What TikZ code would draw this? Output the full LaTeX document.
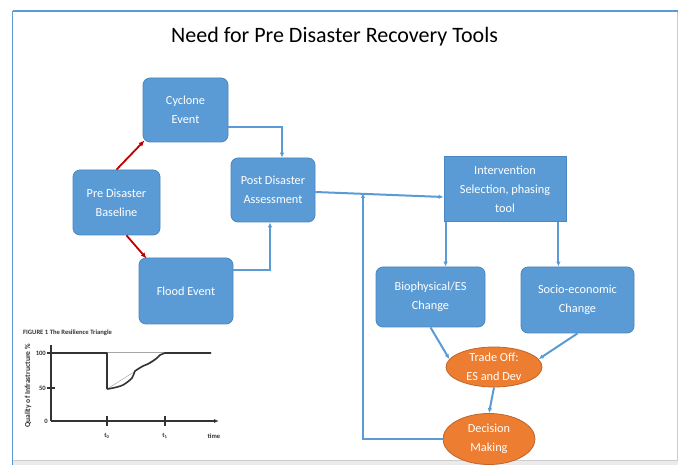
\documentclass[tikz,border=0pt]{standalone}
\usepackage{fontspec}
\setmainfont{Carlito}
\usetikzlibrary{arrows.meta,calc,shapes.geometric}
\definecolor{boxblue}{HTML}{5B9BD5}
\definecolor{boxedge}{HTML}{4A86BF}
\definecolor{linkblue}{HTML}{5B9BD5}
\definecolor{redarrow}{HTML}{C00000}
\definecolor{orangefill}{HTML}{ED7D31}
\definecolor{orangeedge}{HTML}{C0652A}
\definecolor{frameblue}{HTML}{5B9BD5}
\definecolor{bandgray}{HTML}{EBEBEB}
\definecolor{figgray}{HTML}{333333}
\tikzset{
  boxnode/.style={draw=boxedge, line width=0.8pt, fill=boxblue, text=white, align=center,
    rounded corners=7pt, inner sep=2pt, font=\fontsize{12.3}{19}\selectfont},
  sqnode/.style={boxnode, rounded corners=0pt},
  ovalnode/.style={ellipse, draw=orangeedge, line width=0.8pt, fill=orangefill, text=white,
    align=center, inner sep=0pt, font=\fontsize{12.3}{19}\selectfont},
  conn/.style={draw=linkblue, line width=2pt, -{Latex[length=5pt,width=4.5pt]}},
  redconn/.style={draw=redarrow, line width=1.8pt, -{Latex[length=6pt,width=5pt]}},
  figline/.style={draw=figgray, line width=1.6pt},
  figthin/.style={draw=gray!70, line width=0.5pt},
  figtext/.style={text=figgray, font=\fontsize{6.6}{7}\selectfont\bfseries, inner sep=0pt}
}
\begin{document}
\begin{tikzpicture}[x=1pt,y=-1pt]
\useasboundingbox (0,0) rectangle (678,465);
\fill[white] (0,0) rectangle (678,465);
% frame
\fill[bandgray] (13,460) rectangle (678,465);
\draw[gray!40, line width=0.8pt] (13,460) -- (678,460);
\draw[gray!40, line width=1pt] (677,11) -- (677,460);
\draw[frameblue, line width=1.5pt] (12.5,11) -- (678,11);
\draw[frameblue, line width=1.5pt] (12.5,11) -- (12.5,465);
% title
\node[font=\fontsize{22}{26}\selectfont, inner sep=0pt] (title) at (334.5,37) {Need for Pre Disaster Recovery Tools};
% nodes
\node[boxnode, minimum width=85pt, minimum height=64pt] (cyc) at (185.5,110) {Cyclone\\Event};
\node[boxnode, minimum width=87pt, minimum height=65pt] (pre) at (116.5,202.5) {Pre Disaster\\Baseline};
\node[boxnode, minimum width=94pt, minimum height=66pt] (flood) at (186,291) {Flood Event};
\node[boxnode, minimum width=84pt, minimum height=64pt] (post) at (273,190) {Post Disaster\\Assessment};
\node[sqnode, minimum width=122pt, minimum height=65pt] (inter) at (505,189) {Intervention\\Selection, phasing\\tool};
\node[boxnode, minimum width=109pt, minimum height=60pt] (bio) at (430.5,297) {Biophysical/ES\\Change};
\node[boxnode, minimum width=113pt, minimum height=66pt] (socio) at (577.5,300) {Socio-economic\\Change};
\node[ovalnode, minimum width=96pt, minimum height=40pt] (trade) at (494,367) {Trade Off:\\ES and Dev};
\node[ovalnode, minimum width=92pt, minimum height=51pt] (dec) at (489,439) {Decision\\Making};
% red arrows
\draw[redconn] (pre.north) -- ($(cyc.south west)+(2,-2)$);
\draw[redconn] ($(pre.south)+(10,0)$) -- ($(flood.north west)+(8,1)$);
% blue connectors
\draw[conn] ($(cyc.east)+(0,17)$) -| ($(post.north)+(9,0)$);
\draw[conn] ($(flood.east)+(0,-21)$) -| ($(post.south)+(-3,0)$);
\draw[conn] ($(post.east)+(0,2)$) -- ($(inter.west)+(0,8)$);
\coordinate (join) at (363,193);
\draw[conn] (dec.west) -| (join);
\draw[conn] ($(inter.south west)+(2,0)$) coordinate (ia) -- (ia |- bio.north);
\draw[conn] ($(inter.south east)+(-8,0)$) coordinate (ib) -- (ib |- socio.north);
\draw[conn] (bio.south) -- (trade.170);
\draw[conn] (socio.south) -- (trade.10);
\draw[conn] (trade.south) -- (dec.north);
% inset figure: resilience triangle
\node[figtext, anchor=west] (figtitle) at (23,333) {FIGURE 1 The Resilience Triangle};
\node[figtext, rotate=90, font=\fontsize{7.6}{8}\selectfont\bfseries] (ylab) at (28,386) {Quality of Infrastructure \%};
\draw[figline] (51,345) -- (51,421);
\draw[figline, -{Latex[length=5pt,width=4pt]}] (51,421) -- (219,421);
\draw[figline] (47,353) -- (55,353);
\draw[figline] (47,388) -- (55,388);
\draw[figline] (107,416) -- (107,426);
\draw[figline] (165,416) -- (165,426);
\node[figtext, anchor=east] (l100) at (46,353) {100};
\node[figtext, anchor=east] (l50) at (46,388) {50};
\node[figtext, anchor=east] (l0) at (48,421) {0};
\node[figtext] (t0) at (107,436) {t\textsubscript{0}};
\node[figtext] (t1) at (165,436) {t\textsubscript{1}};
\node[figtext] (time) at (214,436) {time};
\draw[figthin] (107,352.5) -- (165,352.5);
\draw[figthin] (107,389) -- (165,352.5);
\draw[figline, line join=round] (51,353) -- (107,353) -- (107,389)
  plot[smooth] coordinates {(107,389) (113,388) (123,385) (132,378) (135,371) (138,369) (143,366) (148,364) (153,361) (157,358) (160,355) (165,353)}
  -- (211,353);
\end{tikzpicture}
\end{document}
